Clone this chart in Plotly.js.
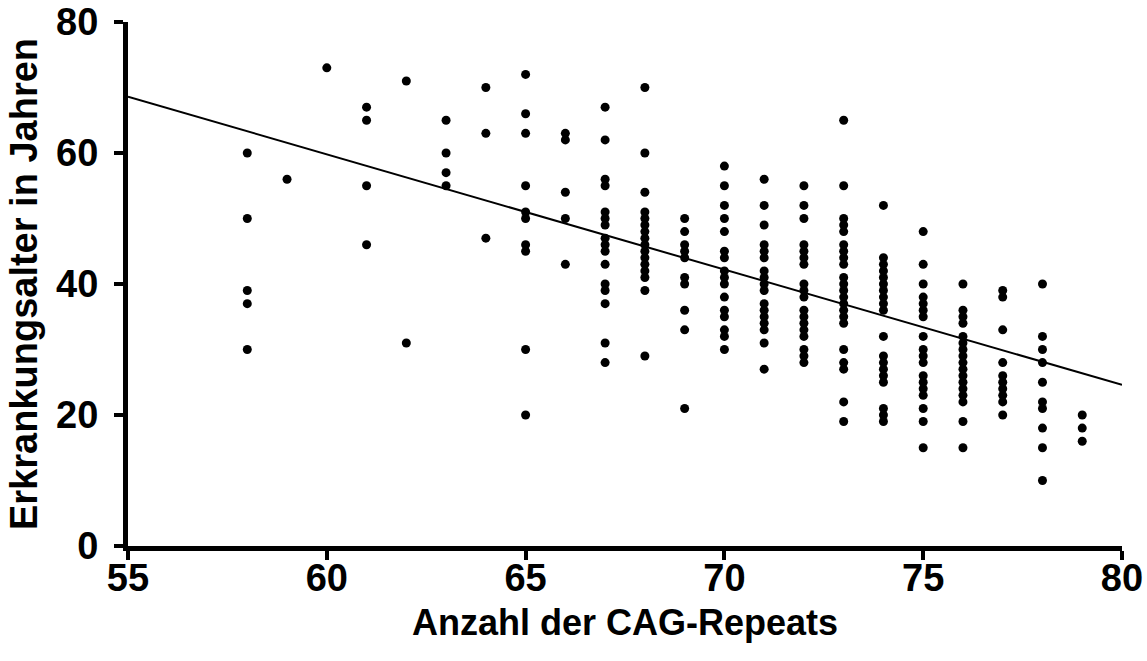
<!DOCTYPE html>
<html>
<head>
<meta charset="utf-8">
<script src="https://cdn.plot.ly/plotly-3.0.1.min.js"></script>
<style>html,body{margin:0;padding:0;background:#fff;}#chart{width:1147px;height:661px;}</style>
</head>
<body>
<div id="chart"></div>
<script>
// CAG repeat counts (x categories of the point columns)
const repeatCounts = [58, 59, 60, 61, 62, 63, 64, 65, 66, 67, 68, 69, 70, 71, 72, 73, 74, 75, 76, 77, 78, 79];

// Age at onset (years) for each repeat count
const onsetAges = [
  [60, 50, 39, 37, 30],
  [56],
  [73],
  [67, 65, 55, 46],
  [71, 31],
  [65, 60, 57, 55],
  [70, 63, 47],
  [72, 66, 63, 55, 51, 50, 46, 45, 30, 20],
  [63, 62, 54, 50, 43],
  [67, 62, 56, 55, 51, 50, 49, 47, 46, 45, 43, 40, 39, 37, 31, 28],
  [70, 60, 54, 51, 50, 49, 48, 47, 46, 45, 44, 43, 42, 41, 39, 29],
  [50, 48, 46, 45, 44, 41, 40, 36, 33, 21],
  [58, 55, 52, 50, 48, 45, 44, 42, 41, 40, 38, 36, 35, 33, 32, 30],
  [56, 52, 49, 46, 45, 44, 42, 41, 40, 39, 37, 36, 35, 34, 33, 31, 27],
  [55, 52, 50, 46, 45, 44, 43, 40, 39, 38, 36, 35, 34, 33, 32, 30, 29, 28],
  [65, 55, 50, 49, 48, 46, 45, 44, 43, 41, 40, 39, 38, 37, 36, 35, 34, 30, 28, 27, 22, 19],
  [52, 44, 43, 42, 41, 40, 39, 38, 37, 36, 32, 29, 28, 27, 26, 25, 21, 20, 19],
  [48, 43, 40, 38, 37, 36, 35, 32, 30, 29, 28, 26, 25, 24, 23, 21, 19, 15],
  [40, 36, 35, 34, 32, 31, 30, 29, 28, 27, 26, 25, 24, 23, 22, 19, 15],
  [39, 38, 33, 28, 26, 25, 24, 23, 22, 20],
  [40, 32, 30, 28, 25, 22, 21, 18, 15, 10],
  [20, 18, 16]
];

// Regression line end points
const fitX = [55, 80];
const fitY = [68.6, 24.6];

// Axis ticks
const xTicks = [55, 60, 65, 70, 75, 80];
const yTicks = [0, 20, 40, 60, 80];

const xTitle = 'Anzahl der CAG-Repeats';
const yTitle = 'Erkrankungsalter in Jahren';

const ptsX = [];
const ptsY = [];
repeatCounts.forEach((r, i) => {
  onsetAges[i].forEach(a => { ptsX.push(r); ptsY.push(a); });
});

const FONT = 'Liberation Sans, Arial, Helvetica, sans-serif';

const traces = [
  {
    type: 'scatter', mode: 'lines', x: fitX, y: fitY,
    line: {color: '#000', width: 2}, hoverinfo: 'skip'
  },
  {
    type: 'scatter', mode: 'markers', x: ptsX, y: ptsY,
    marker: {color: '#000', size: 9, symbol: 'circle', line: {width: 0}}
  }
];

const axisCommon = {
  showline: true, linewidth: 5, linecolor: '#000',
  ticks: 'outside', ticklen: 9, tickwidth: 4, tickcolor: '#000',
  showgrid: false, zeroline: false, fixedrange: true,
  ticklabeloverflow: 'allow',
  tickfont: {family: FONT, size: 38, color: '#000', weight: 700}
};

const layout = {
  width: 1147, height: 661,
  margin: {l: 128, r: 25, t: 22, b: 115},
  paper_bgcolor: '#fff', plot_bgcolor: '#fff',
  showlegend: false,
  font: {family: FONT, color: '#000'},
  xaxis: Object.assign({}, axisCommon, {
    range: [55, 80], tickmode: 'array', tickvals: xTicks,
    ticklabelstandoff: -15,
    title: {text: xTitle, font: {family: FONT, size: 36, color: '#000', weight: 700}, standoff: 14}
  }),
  yaxis: Object.assign({}, axisCommon, {
    range: [0, 80], tickmode: 'array', tickvals: yTicks,
    ticklabelstandoff: 8,
    title: {text: yTitle, font: {family: FONT, size: 38, color: '#000', weight: 700}, standoff: 8}
  })
};

Plotly.newPlot('chart', traces, layout, {displayModeBar: false, staticPlot: true});
</script>
</body>
</html>
